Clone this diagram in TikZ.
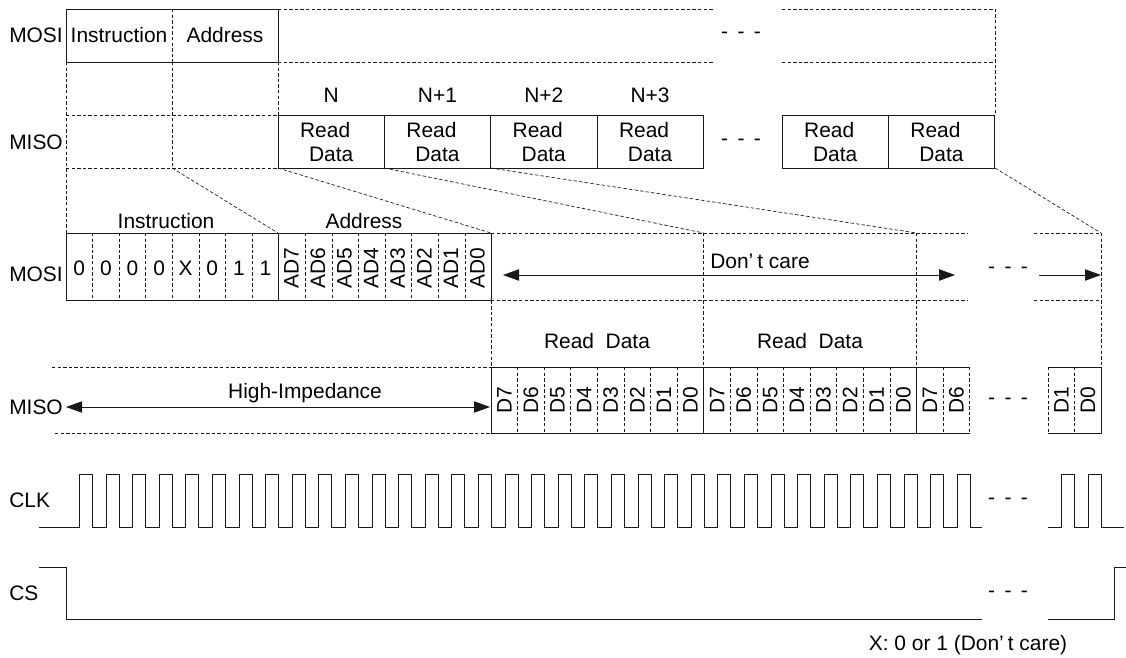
\documentclass[tikz,border=0pt]{standalone}
\usepackage{fontspec}
\setmainfont{Liberation Sans}
\usetikzlibrary{arrows.meta,positioning}
\def\bw{26.6}
\def\rw{106.3}
\def\hi{474}
\def\lo{527}
\def\csh{567}
\def\csl{619}
\newcommand\gapdash{-\hspace{7pt}-\hspace{7pt}-}

\begin{document}
\begin{tikzpicture}
    [
        x=0.75pt, y=-0.75pt,
        font=\fontsize{15.7}{18.5}\selectfont,
        lineTh/.style={black!90, line width=0.6pt},
        frame/.style={black!90, line width=0.5pt, dash pattern=on 2.6pt off 1.6pt},
        sig/.style={anchor=west, inner sep=0pt},
        bitTxt/.style={rotate=90, inner sep=0pt},
        gapDots/.style={inner sep=0pt},
        span/.style={lineTh, {Triangle[length=12pt,width=8.5pt]}-{Triangle[length=12pt,width=8.5pt]}},
        tip/.style={lineTh, -{Triangle[length=12pt,width=8.5pt]}}
    ]
%    \draw[style=help lines,step=50] (0,0) grid (1126,657);

    % ---- overview: command word and read data words
    \node[sig] (mosiTop) at (9,35) {MOSI};
    \node[sig] (misoTop) at (9,142) {MISO};
    \draw[lineTh] (66,9) rectangle (278,62);
    \draw[frame] (172,9) -- (172,62);
    \node (cmdTop) at (119,35) {Instruction};
    \node (adrTop) at (225,35) {Address};
    \draw[frame] (278,9) -- (713,9) (278,62) -- (713,62);
    \draw[frame] (782,9) -- (995,9) -- (995,115) (782,62) -- (995,62);
    \draw[frame] (66,62) -- (66,233) (172,62) -- (172,168) (278,62) -- (278,115);
    \draw[frame] (66,115) -- (278,115) (66,168) -- (278,168);
    \node[gapDots] (dotsA) at (741,35) {\gapdash};
    \node[gapDots] (dotsB) at (741,142) {\gapdash};

    \foreach \k/\lab in {0/N,1/N+1,2/N+2,3/N+3}
    {
        \coordinate (w\k) at (278+\k*\rw,168);
        \draw[lineTh] (278+\k*\rw,115) rectangle ++(\rw,53);
        \node (idx\k) at (278+\k*\rw+0.5*\rw,95) {\lab};
        \node[align=center] (word\k) at (278+\k*\rw+0.5*\rw,142) {Read\hspace*{9pt}\\Data};
    }
    \foreach \k in {4,5}
    {
        \draw[lineTh] (782+\k*\rw-4*\rw,115) rectangle ++(\rw,53);
        \node[align=center] (word\k) at (782+\k*\rw-3.5*\rw,142) {Read\hspace*{9pt}\\Data};
    }

    % fan out to the bit frames
    \coordinate (c1) at (172,168);
    \coordinate (wEnd) at (995,168);
    \coordinate (t0) at (278,233);
    \coordinate (t1) at (491,233);
    \coordinate (t2) at (703.8,233);
    \coordinate (t3) at (916.6,233);
    \coordinate (t4) at (1101,233);
    \draw[frame] (c1) -- (t0);
    \draw[frame] (w0) -- (t1);
    \draw[frame] (w1) -- (t2);
    \draw[frame] (w2) -- (t3);
    \draw[frame] (wEnd) -- (t4);

    % ---- MOSI bits
    \node[sig] (mosiBit) at (9,274) {MOSI};
    \node (cmdBit) at (166,221) {Instruction};
    \node (adrBit) at (364,221) {Address};
    \draw[lineTh] (66,233) rectangle (491,300.5) (278,233) -- (278,300.5);
    \foreach \i in {1,2,3,4,5,6,7,9,10,11,12,13,14,15}
        \draw[frame] (66+\i*\bw,233) -- (66+\i*\bw,300.5);
    \foreach \v [count=\i from 0] in {0,0,0,0,X,0,1,1}
        \node (cmd\i) at (66+\i*\bw+0.5*\bw,268) {\v};
    \foreach \v [count=\i from 0] in {AD7,AD6,AD5,AD4,AD3,AD2,AD1,AD0}
        \node[bitTxt] (adr\i) at (278+\i*\bw+0.5*\bw,268) {\v};

    \draw[frame] (491,233) -- (968,233) (491,300.5) -- (968,300.5);
    \draw[frame] (1034,233) -- (1101,233) (1034,300.5) -- (1101,300.5);
    \draw[frame] (491,300.5) -- (491,367) (t2) -- (703.8,367) (t3) -- (916.6,367) (t4) -- (1101,367);
    \coordinate (dcL) at (503,275);
    \coordinate (dcR) at (955,275);
    \coordinate (dcA) at (1039,275);
    \coordinate (dcB) at (1101,275);
    \draw[span] (dcL) -- (dcR);
    \draw[tip] (dcA) -- (dcB);
    \node[sig] (dc) at (710,261) {Don’\kern3pt t care};
    \node[gapDots] (dotsC) at (1008,270) {\gapdash};

    % ---- MISO bits
    \node[sig] (misoBit) at (9,407) {MISO};
    \node (rdA) at (597,341) {Read\ \ Data};
    \node (rdB) at (810,341) {Read\ \ Data};
    \draw[frame] (52,367) -- (491,367) (55,433) -- (491,433);
    \coordinate (hzL) at (66,407);
    \coordinate (hzR) at (490,407);
    \draw[span] (hzL) -- (hzR);
    \node (hiZ) at (305,393) {High-Impedance};
    \draw[lineTh] (969.8,367) -- (491,367) -- (491,433) -- (969.8,433);
    \draw[lineTh] (703.8,367) -- (703.8,433) (916.6,367) -- (916.6,433);
    \foreach \i in {1,2,3,4,5,6,7,9,10,11,12,13,14,15,17,18}
        \draw[frame] (491+\i*\bw,367) -- (491+\i*\bw,433);
    \foreach \i in {0,...,17}
    {
        \pgfmathtruncatemacro\d{7-mod(\i,8)}
        \node[bitTxt] (d\i) at (491+\i*\bw+0.5*\bw,400) {D\d};
    }
    \node[gapDots] (dotsD) at (1008,401) {\gapdash};
    \draw[lineTh] (1048.4,367) -- (1101,367) -- (1101,433) -- (1048.4,433);
    \draw[frame] (1048.4,367) -- (1048.4,433) (1074.7,367) -- (1074.7,433);
    \node[bitTxt] (dE1) at (1061.5,400) {D1};
    \node[bitTxt] (dE0) at (1088,400) {D0};

    % ---- CLK
    \node[sig] (clk) at (9,500) {CLK};
    \draw[lineTh] (39,\lo)
        \foreach \i in {0,...,33} { -- (79.3+\i*\bw,\lo) -- (79.3+\i*\bw,\hi) -- (92.3+\i*\bw,\hi) -- (92.3+\i*\bw,\lo) }
        -- (981.7,\lo);
    \draw[lineTh] (1048,\lo) -- (1061.7,\lo) -- (1061.7,\hi) -- (1074.5,\hi) -- (1074.5,\lo)
        -- (1088,\lo) -- (1088,\hi) -- (1101,\hi) -- (1101,\lo) -- (1124,\lo);
    \node[gapDots] (dotsE) at (1008,501) {\gapdash};

    % ---- CS
    \node[sig] (cs) at (9,593) {CS};
    \draw[lineTh] (39,\csh) -- (66,\csh) -- (66,\csl) -- (981.7,\csl);
    \draw[lineTh] (1048,\csl) -- (1114.3,\csl) -- (1114.3,\csh) -- (1126,\csh);
    \node[gapDots] (dotsF) at (1008,594) {\gapdash};

    \node (note) at (968,645) {X: 0 or 1 (Don’\kern3pt t care)};

    \pgfresetboundingbox
    \useasboundingbox (0,0) rectangle (1126,657);
\end{tikzpicture}
\end{document}
